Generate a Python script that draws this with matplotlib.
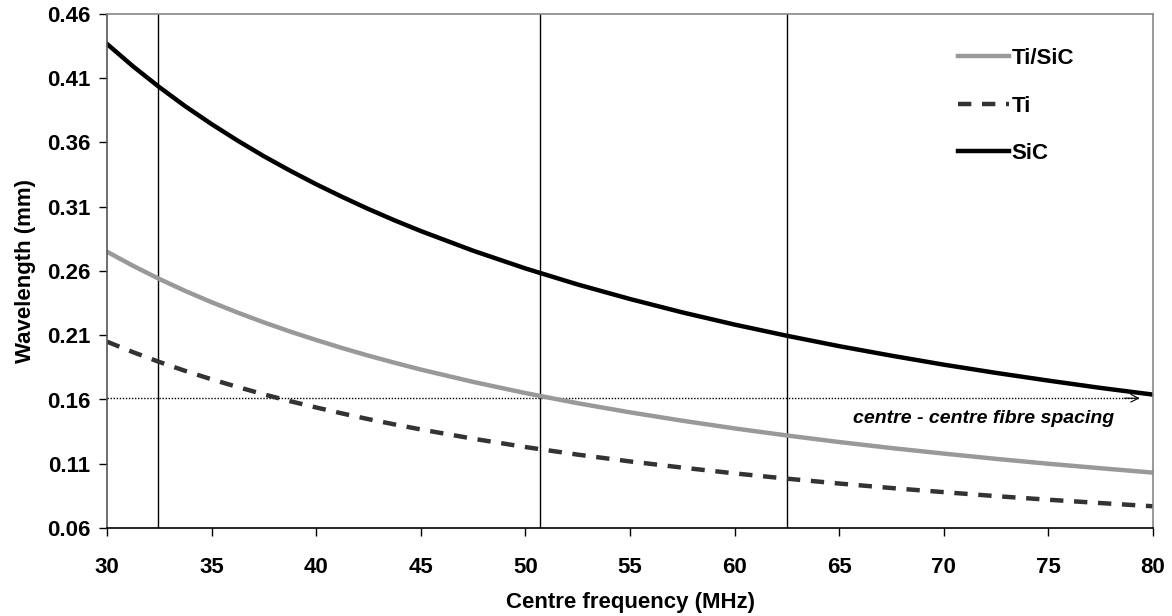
import matplotlib
matplotlib.use("Agg")
import matplotlib.pyplot as plt

plt.rcParams['font.family'] = ['Liberation Sans', 'DejaVu Sans']
plt.rcParams['font.weight'] = 'bold'

# values
freq = [30, 31.25, 32.5, 33.75, 35, 36.25, 37.5, 38.75, 40, 41.25, 42.5, 43.75,
        45, 47.5, 50, 52.5, 55, 57.5, 60, 62.5, 65, 67.5, 70, 72.5, 75, 77.5, 80]
ti_sic = [0.2750, 0.2640, 0.2538, 0.2444, 0.2357, 0.2276, 0.2200, 0.2129, 0.2063,
          0.2000, 0.1941, 0.1886, 0.1833, 0.1737, 0.1650, 0.1571, 0.1500, 0.1435,
          0.1375, 0.1320, 0.1269, 0.1222, 0.1179, 0.1138, 0.1100, 0.1065, 0.1031]
ti = [0.2050, 0.1968, 0.1892, 0.1822, 0.1757, 0.1697, 0.1640, 0.1587, 0.1538,
      0.1491, 0.1447, 0.1406, 0.1367, 0.1295, 0.1230, 0.1171, 0.1118, 0.1070,
      0.1025, 0.0984, 0.0946, 0.0911, 0.0879, 0.0848, 0.0820, 0.0794, 0.0769]
sic = [0.4367, 0.4192, 0.4031, 0.3881, 0.3743, 0.3614, 0.3493, 0.3381, 0.3275,
       0.3176, 0.3082, 0.2994, 0.2911, 0.2758, 0.2620, 0.2495, 0.2382, 0.2278,
       0.2183, 0.2096, 0.2015, 0.1941, 0.1871, 0.1807, 0.1747, 0.1690, 0.1638]

marker_freqs = [32.45, 50.7, 62.5]
fibre_spacing = 0.161

fig = plt.figure(figsize=(11.72, 6.16), dpi=100)
ax = fig.add_axes([107 / 1172, 1 - 528 / 616, 1046 / 1172, 514 / 616])

ax.plot(freq, ti_sic, color='#999999', lw=3.2, label='Ti/SiC')
ax.plot(freq, ti, color='#333333', lw=3.2, ls=(0, (3, 2.4)), label='Ti')
ax.plot(freq, sic, color='black', lw=3.2, label='SiC')

for f in marker_freqs:
    ax.axvline(f, color='black', lw=1.0, zorder=1)

ax.plot([30, 79.3], [fibre_spacing, fibre_spacing], color='black', lw=1.0,
        ls=(0, (1, 1.2)), zorder=1)
ax.annotate('', xy=(79.5, fibre_spacing), xytext=(78.5, fibre_spacing),
            arrowprops=dict(arrowstyle='->', color='black', lw=0.8,
                            mutation_scale=14))
ax.text(71.9, 0.145, 'centre - centre fibre spacing', style='italic',
        fontweight='bold', fontsize=14, ha='center', va='center')

ax.set_xlim(30, 80)
ax.set_ylim(0.06, 0.46)
ax.set_xticks(range(30, 81, 5))
ax.set_yticks([0.06 + 0.05 * i for i in range(9)])
ax.set_yticklabels([f'{0.06 + 0.05 * i:.2f}' for i in range(9)])
ax.tick_params(labelsize=16, direction='out', length=6, width=1.0, pad=6)
ax.tick_params(axis='x', pad=15)

ax.set_xlabel('Centre frequency (MHz)', fontsize=16, fontweight='bold', labelpad=10)
ax.set_ylabel('Wavelength (mm)', fontsize=16, fontweight='bold', labelpad=8)

for side in ['top', 'right']:
    ax.spines[side].set_color('#888888')
ax.spines['left'].set_color('#555555')
ax.spines['bottom'].set_color('black')
for s in ax.spines.values():
    s.set_linewidth(1.2)

leg = ax.legend(loc='upper left', bbox_to_anchor=(0.8136, 0.934), frameon=False,
                fontsize=16, handlelength=2.3, handletextpad=0.1, labelspacing=1.2,
                borderpad=0, borderaxespad=0)

fig.savefig('out.png', dpi=100)
